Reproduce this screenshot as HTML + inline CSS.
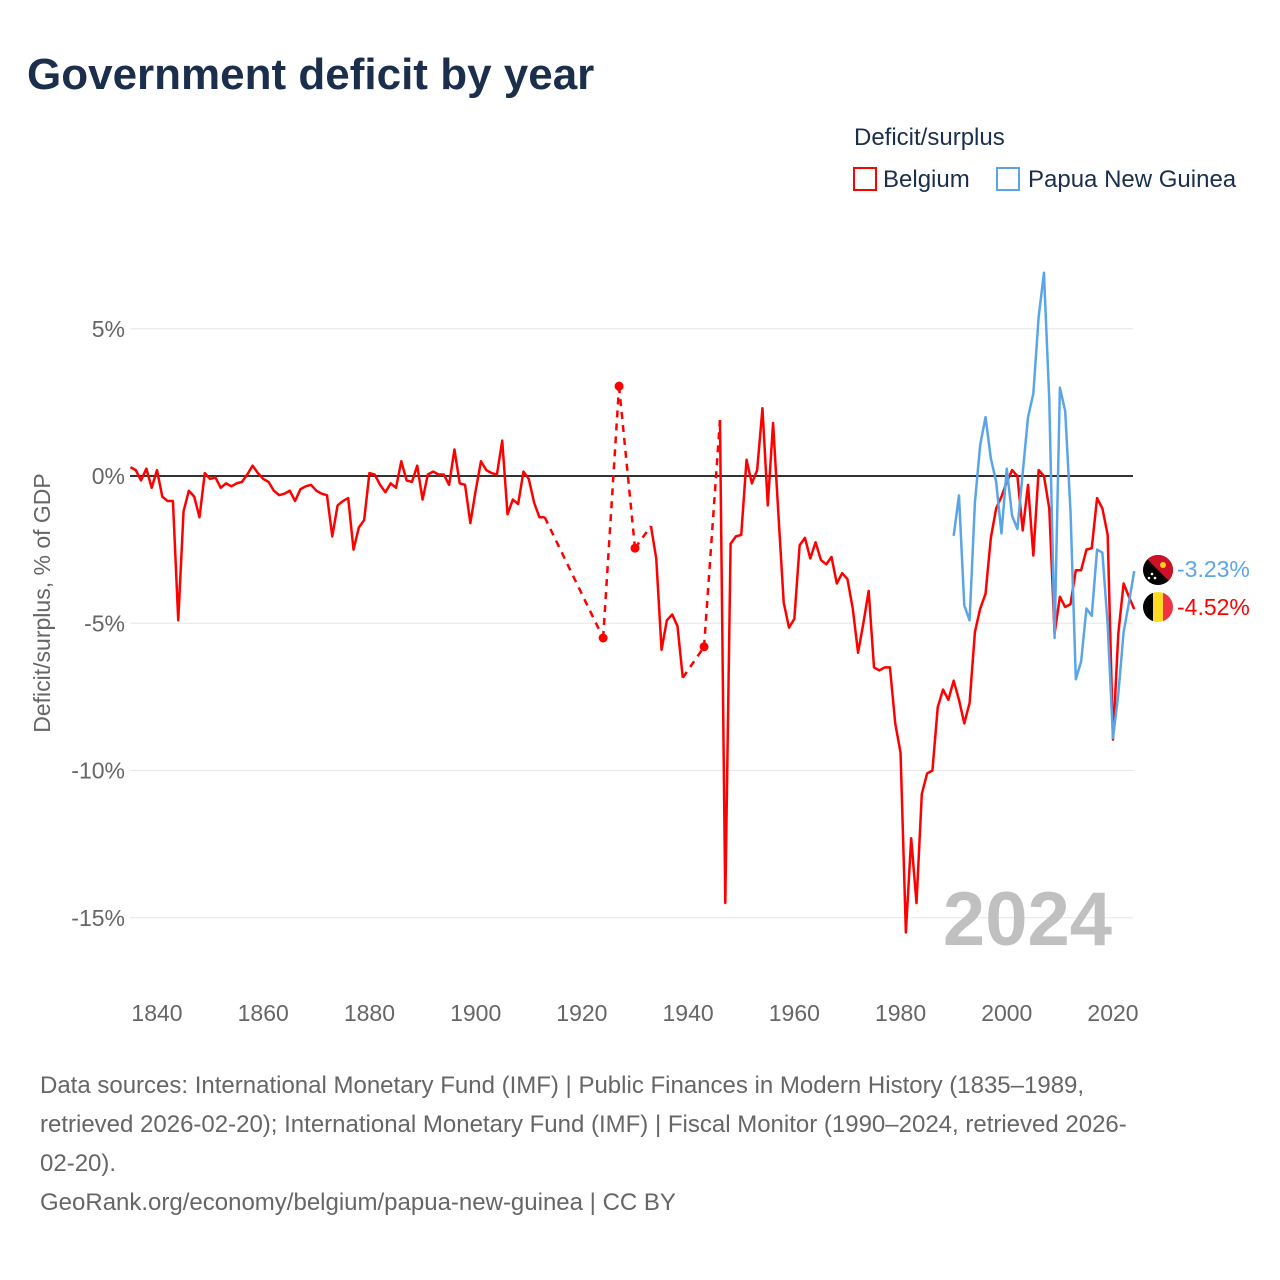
<!DOCTYPE html>
<html><head><meta charset="utf-8"><style>
body{margin:0;background:#fff;font-family:"Liberation Sans",sans-serif;}
#wrap{position:relative;width:1280px;height:1280px;overflow:hidden;}
.t{position:absolute;white-space:nowrap;}
</style></head><body>
<div id="wrap">
<div class="t" style="left:27px;top:50px;font-size:44px;font-weight:bold;color:#1b2e4b;">Government deficit by year</div>
<div class="t" style="left:854px;top:124px;font-size:24px;color:#1b2e4b;">Deficit/surplus</div>
<div class="t" style="left:853px;top:166px;font-size:24px;color:#1b2e4b;"><span style="display:inline-block;width:24px;height:24px;border:2px solid #f00;box-sizing:border-box;vertical-align:-4px;margin-right:6px;"></span>Belgium</div>
<div class="t" style="left:996px;top:166px;font-size:24px;color:#1b2e4b;"><span style="display:inline-block;width:24px;height:24px;border:2px solid #5aa5e8;box-sizing:border-box;vertical-align:-4px;margin-right:8px;"></span>Papua New Guinea</div>
<svg id="chart" width="1280" height="1280" style="position:absolute;left:0;top:0"></svg>
<div class="t" style="left:40px;top:1066px;font-size:24px;line-height:39px;color:#666;">Data sources: International Monetary Fund (IMF) | Public Finances in Modern History (1835–1989,<br>retrieved 2026-02-20); International Monetary Fund (IMF) | Fiscal Monitor (1990–2024, retrieved 2026-<br>02-20).<br>GeoRank.org/economy/belgium/papua-new-guinea | CC BY</div>
</div>
<script>
const belYears=[];for(let y=1835;y<=2024;y++)belYears.push(y);
const belValues=[0.3,0.2,-0.15,0.25,-0.4,0.2,-0.7,-0.85,-0.85,-4.9,-1.2,-0.5,-0.7,-1.4,0.1,-0.1,-0.05,-0.4,-0.25,-0.35,-0.25,-0.2,0.05,0.35,0.1,-0.1,-0.2,-0.5,-0.65,-0.6,-0.5,-0.85,-0.45,-0.35,-0.3,-0.5,-0.6,-0.65,-2.05,-1.0,-0.85,-0.75,-2.5,-1.75,-1.5,0.1,0.05,-0.3,-0.55,-0.25,-0.4,0.5,-0.15,-0.2,0.35,-0.8,0.05,0.15,0.05,0.05,-0.3,0.9,-0.25,-0.3,-1.6,-0.5,0.5,0.2,0.1,0.05,1.2,-1.3,-0.8,-0.95,0.15,-0.1,-0.9,-1.4,-1.4,
null,null,null,null,null,null,null,null,null,null,-5.5,null,null,3.05,null,null,-2.45,null,null,-1.7,-2.8,-5.9,-4.9,-4.7,-5.1,-6.85,null,null,null,-5.8,null,null,1.9,-14.5,-2.3,-2.05,-2.0,0.55,-0.25,0.2,2.3,-1.0,1.8,-1.3,-4.3,-5.15,-4.85,-2.35,-2.1,-2.8,-2.25,-2.85,-3.0,-2.75,-3.65,-3.3,-3.5,-4.5,-6.0,-5.0,-3.9,-6.5,-6.6,-6.5,-6.5,-8.4,-9.4,-15.5,-12.3,-14.5,-10.8,-10.1,-10.0,-7.85,-7.25,-7.6,-6.95,-7.6,-8.4,-7.7,-5.3,-4.5,-4.0,-2.1,-1.1,-0.7,-0.2,0.2,0.0,-1.85,-0.3,-2.7,0.2,0.0,-1.1,-5.35,-4.1,-4.45,-4.35,-3.2,-3.2,-2.5,-2.45,-0.75,-1.1,-2.0,-8.95,-5.35,-3.65,-4.1,-4.52];
const pngYears=[];for(let y=1990;y<=2024;y++)pngYears.push(y);
const pngValues=[-2.03,-0.66,-4.4,-4.9,-0.9,1.06,2.0,0.6,-0.2,-1.95,0.25,-1.35,-1.8,0.1,2.0,2.8,5.4,6.9,2.6,-5.5,3.0,2.2,-1.2,-6.9,-6.3,-4.5,-4.75,-2.5,-2.6,-5.05,-8.9,-7.4,-5.3,-4.3,-3.23];
const yTicks=[5,0,-5,-10,-15];
const xTicks=[1840,1860,1880,1900,1920,1940,1960,1980,2000,2020];
const X=y=>157+(y-1840)*(956/180);
const Y=v=>476-v*29.45;
const svg=document.getElementById('chart');const NS='http://www.w3.org/2000/svg';
function mk(t,a,txt){const e=document.createElementNS(NS,t);for(const k in a)e.setAttribute(k,a[k]);if(txt!=null)e.textContent=txt;svg.appendChild(e);return e;}
yTicks.forEach(v=>{
 const g=mk('line',{x1:130,x2:1133,y1:Y(v),y2:Y(v),stroke:v===0?'#333':'#e6e6e6','stroke-width':v===0?2:1});
 
 
 const t=mk('text',{x:125,y:Y(v)+8,'text-anchor':'end','font-size':23,fill:'#666','font-family':'Liberation Sans'},v+'%');
 
 
});
xTicks.forEach(y=>{
 const t=mk('text',{x:X(y),y:1021,'text-anchor':'middle','font-size':23,fill:'#666','font-family':'Liberation Sans'},y);
 
 
});
const yt=mk('text',{x:0,y:0,transform:'translate(50,603) rotate(-90)','text-anchor':'middle','font-size':23,fill:'#666','font-family':'Liberation Sans'},'Deficit/surplus, % of GDP');


const yr=mk('text',{x:1112,y:945,'text-anchor':'end','font-size':76,'font-weight':'bold',fill:'#c0c0c0','font-family':'Liberation Sans'},'2024');


const pts=belYears.map((y,i)=>belValues[i]==null?null:[X(y),Y(belValues[i])]);
let solid='';let lastP=null,lastI=-1;
pts.forEach((p,i)=>{
 if(!p)return;
 if(lastP){
  if(i-lastI===1){solid+=' L'+p[0]+','+p[1];}
  else{const d=mk('line',{x1:lastP[0],y1:lastP[1],x2:p[0],y2:p[1],stroke:'#f00','stroke-width':2.5,'stroke-dasharray':'7,6'});
   
   
   solid+=' M'+p[0]+','+p[1];}
  const iso=(pts[i-1]==null)&&(pts[i+1]==null);
  if(iso){const c=mk('circle',{cx:p[0],cy:p[1],r:4.5,fill:'#f00'});
   
   }
 } else {solid='M'+p[0]+','+p[1];}
 lastP=p;lastI=i;
});
const bl=mk('path',{d:solid,fill:'none',stroke:'#f00','stroke-width':2.5,'stroke-linejoin':'round'});


const pl=mk('path',{d:pngYears.map((y,i)=>(i?'L':'M')+X(y)+','+Y(pngValues[i])).join(' '),fill:'none',stroke:'#5aa5e8','stroke-width':2.5,'stroke-linejoin':'round'});


function flag(cy,name,parts){const g=document.createElementNS(NS,'g');svg.appendChild(g);
 
 
 g.innerHTML=parts;g.setAttribute('transform','translate(1158,'+cy+')');}
flag(570,'png-flag','<clipPath id="c1"><circle r="15"/></clipPath><g clip-path="url(#c1)"><rect x="-15" y="-15" width="30" height="30" fill="#000"/><polygon points="-15,-15 15,-15 15,15" fill="#ce1126"/><circle cx="5" cy="-5" r="3" fill="#fcd116"/><circle cx="-6" cy="4" r="1.3" fill="#fff"/><circle cx="-3" cy="8" r="1.3" fill="#fff"/><circle cx="-9" cy="8" r="1.3" fill="#fff"/></g>');
flag(607,'belgium-flag','<clipPath id="c2"><circle r="15"/></clipPath><g clip-path="url(#c2)"><rect x="-15" y="-15" width="10" height="30" fill="#000"/><rect x="-5" y="-15" width="10" height="30" fill="#fdda24"/><rect x="5" y="-15" width="10" height="30" fill="#ef3340"/></g>');
const l1=mk('text',{x:1177,y:577,'font-size':23,fill:'#5aa5e8','font-family':'Liberation Sans'},pngValues[pngValues.length-1].toFixed(2)+'%');


const l2=mk('text',{x:1177,y:615,'font-size':23,fill:'#f00','font-family':'Liberation Sans'},belValues[belValues.length-1].toFixed(2)+'%');


</script>
</body></html>
